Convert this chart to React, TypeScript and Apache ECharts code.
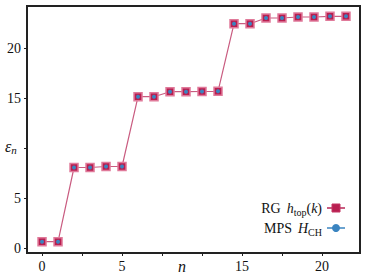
import React, { useEffect, useRef } from "react";
import * as echarts from "echarts";

const nValues = [0, 1, 2, 3, 4, 5, 6, 7, 8, 9, 10, 11, 12, 13, 14, 15, 16, 17, 18, 19];
const rgValues = [0.63, 0.63, 8.05, 8.05, 8.15, 8.15, 15.13, 15.13, 15.63, 15.63, 15.65, 15.67, 22.43, 22.43, 23.0, 23.0, 23.1, 23.1, 23.17, 23.17];
const mpsValues = [0.63, 0.63, 8.05, 8.05, 8.15, 8.15, 15.13, 15.13, 15.63, 15.63, 15.65, 15.67, 22.43, 22.43, 23.0, 23.0, 23.1, 23.1, 23.17, 23.17];
const xTickValues = [0, 2.5, 5, 7.5, 10, 12.5, 15, 17.5];
const xLabelValues = [0, 5, 12.5, 17.5];
const xLabelTexts = ["0", "5", "15", "20"];
const yTickValues = [0, 5, 10, 15, 20];
const yLabelValues = [0, 5, 15, 20];

const FONT = "Liberation Serif, DejaVu Serif, serif";
const INK = "#111";

export default function App() {
  const ref = useRef<HTMLDivElement>(null);
  useEffect(() => {
    document.body.style.margin = "0";
    const chart = echarts.init(ref.current!, null, { renderer: "svg" });
    const rich = {
      a: { fontFamily: FONT, fontSize: 14, color: INK },
      i: { fontFamily: FONT, fontSize: 14, fontStyle: "italic", color: INK },
      s: { fontFamily: FONT, fontSize: 10, color: INK, padding: [8, 0, 0, 0] },
    };
    chart.setOption({
      animation: false,
      textStyle: { fontFamily: FONT },
      grid: { left: 27, right: 14, top: 6, bottom: 23, show: true, borderColor: "#222", borderWidth: 2, containLabel: false },
      xAxis: {
        type: "value",
        min: -0.94,
        max: 19.875,
        splitLine: { show: false },
        axisLine: { show: true, onZero: false, lineStyle: { color: "#222", width: 2 } },
        axisTick: { show: true, customValues: xTickValues, length: 3, lineStyle: { color: "#222" } },
        axisLabel: {
          customValues: xLabelValues,
          formatter: (v: number) => {
            const i = xLabelValues.indexOf(v);
            return i >= 0 ? xLabelTexts[i] : "";
          },
          fontFamily: FONT,
          fontSize: 14,
          color: INK,
          margin: 6,
        },
      },
      yAxis: {
        type: "value",
        min: -0.5,
        max: 24.2,
        splitLine: { show: false },
        axisLine: { show: true, onZero: false, lineStyle: { color: "#222", width: 2 } },
        axisTick: { show: true, customValues: yTickValues, length: 3, lineStyle: { color: "#222" } },
        axisLabel: {
          customValues: yLabelValues,
          fontFamily: FONT,
          fontSize: 14,
          color: INK,
          margin: 6,
        },
      },
      legend: {
        orient: "vertical",
        right: 23,
        top: 196,
        align: "right",
        itemGap: 4,
        itemWidth: 18,
        itemHeight: 10,
        textStyle: { rich },
        formatter: (name: string) =>
          name === "RG"
            ? "{a|RG}  {i|h}{s|top}{a|(}{i|k}{a|)}"
            : "{a|MPS}  {i|H}{s|CH}",
        data: [
          { name: "RG", itemStyle: { color: "#b81f50", borderColor: "#c43562", borderWidth: 1 } },
          { name: "MPS", lineStyle: { opacity: 1, color: "#3a84c0", width: 1.5 } },
        ],
      },
      graphic: [
        {
          type: "text",
          left: 5,
          top: 138,
          style: {
            text: "{e|ε}{n|n}",
            rich: {
              e: { fontFamily: FONT, fontSize: 16, fontStyle: "italic", fill: INK },
              n: { fontFamily: FONT, fontSize: 11, fontStyle: "italic", fill: INK, padding: [8, 0, 0, 0] },
            },
          },
        },
        {
          type: "text",
          left: 178,
          top: 258,
          style: { text: "n", fontFamily: FONT, fontSize: 16, fontStyle: "italic", fill: INK },
        },
      ],
      series: [
        {
          name: "RG",
          type: "line",
          data: nValues.map((n, i) => [n, rgValues[i]]),
          symbol: "rect",
          symbolSize: 8,
          itemStyle: { color: "#b81f50", borderColor: "#e07a9a", borderWidth: 1.5 },
          lineStyle: { color: "#c95c80", width: 1.2 },
          z: 2,
        },
        {
          name: "MPS",
          type: "line",
          data: nValues.map((n, i) => [n, mpsValues[i]]),
          symbol: "circle",
          symbolSize: 4,
          itemStyle: { color: "#3a84c0" },
          lineStyle: { opacity: 0 },
          z: 3,
        },
      ],
    });
    return () => chart.dispose();
  }, []);
  return <div ref={ref} style={{ width: 374, height: 276 }} />;
}
